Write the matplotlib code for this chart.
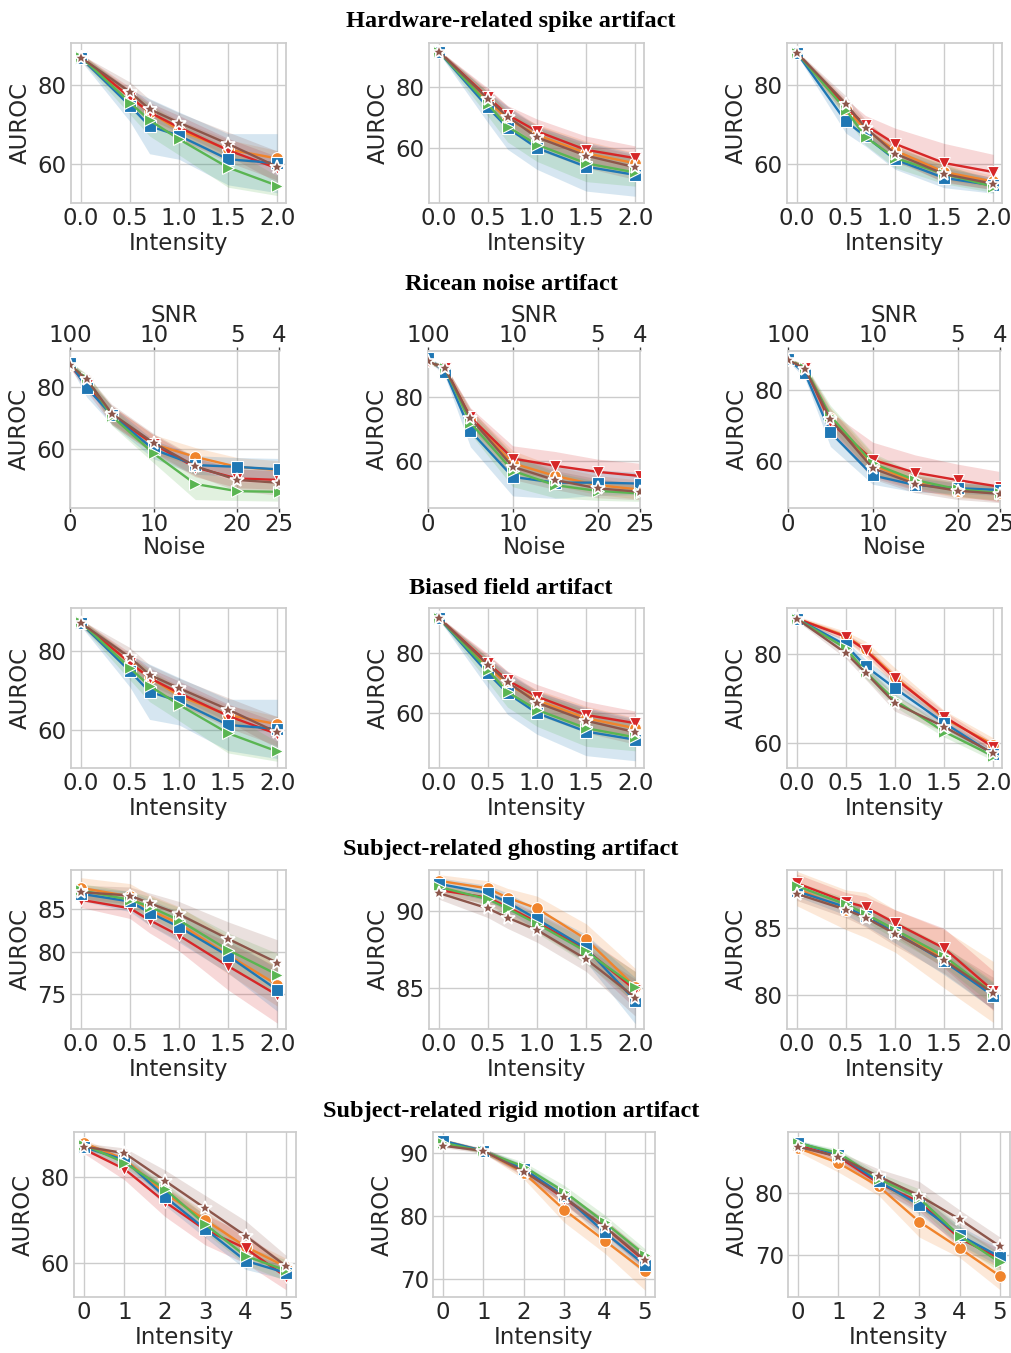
import matplotlib
matplotlib.use("Agg")
import matplotlib.pyplot as plt
import numpy as np
from matplotlib.ticker import MultipleLocator, FormatStrFormatter

# ---------------- data ----------------
x_intensity = [0.0, 0.5, 0.7, 1.0, 1.5, 2.0]
x_noise = [0, 2, 5, 10, 15, 20, 25]
x_motion = [0, 1, 2, 3, 4, 5]
intensity_ticks = [0.0, 0.5, 1.0, 1.5, 2.0]
noise_ticks = [0, 10, 20, 25]
snr_labels = ["100", "10", "5", "4"]
motion_ticks = [0, 1, 2, 3, 4, 5]

series = ["orange", "red", "blue", "green", "brown"]
colors = {"blue": "#1f77b4", "orange": "#f0842c", "green": "#5ab552",
          "red": "#d62728", "brown": "#8c564b"}
markers = {"blue": "s", "orange": "o", "green": ">", "red": "v", "brown": "*"}

section_titles = ["Hardware-related spike artifact", "Ricean noise artifact",
                  "Biased field artifact", "Subject-related ghosting artifact",
                  "Subject-related rigid motion artifact"]

# Hardware-related spike
spike1_mean = {"blue": [87.0, 74.8, 69.6, 67.2, 61.2, 60.2],
               "orange": [87.3, 76.9, 73.2, 68.6, 63.7, 61.4],
               "green": [87.2, 75.6, 71.1, 66.3, 59.1, 54.5],
               "red": [87.1, 77.0, 73.1, 69.3, 63.5, 58.9],
               "brown": [87.0, 78.3, 73.9, 70.5, 65.1, 59.3]}
spike1_ci = {"blue": [0.8, 4, 7, 6, 6.5, 7.5],
             "orange": [0.8, 2, 2, 2.5, 2.5, 2],
             "green": [0.8, 3, 4, 4, 5, 2.5],
             "red": [0.8, 2.5, 2.5, 3, 3, 3],
             "brown": [0.8, 2.5, 2.5, 2.5, 3, 4]}
spike2_mean = {"blue": [91.7, 73.4, 66.7, 60.1, 54.0, 51.3],
               "orange": [91.7, 75.6, 69.6, 64.4, 58.4, 55.1],
               "green": [91.7, 74.5, 67.1, 61.2, 55.1, 52.1],
               "red": [91.7, 76.7, 71.0, 65.6, 59.5, 56.8],
               "brown": [91.7, 76.2, 70.4, 63.6, 57.6, 53.8]}
spike2_ci = {"blue": [0.5, 5, 7, 7, 8, 7],
             "orange": [0.5, 3, 3, 3.5, 4, 3.5],
             "green": [0.5, 4, 5, 5.5, 6, 4.5],
             "red": [0.5, 3, 3, 4, 4.5, 4],
             "brown": [0.5, 3, 3.5, 4, 4, 4]}
spike3_mean = {"blue": [88.3, 70.8, 67.0, 61.1, 56.4, 54.5],
               "orange": [88.3, 74.0, 68.7, 63.4, 57.9, 55.5],
               "green": [88.3, 73.8, 66.8, 61.5, 57.4, 54.2],
               "red": [88.3, 74.5, 69.8, 65.1, 60.2, 57.9],
               "brown": [88.3, 75.3, 69.2, 62.6, 57.4, 54.9]}
spike3_ci = {"blue": [0.5, 3, 2.5, 2.5, 2.5, 2],
             "orange": [0.5, 2, 2, 2, 2, 1.5],
             "green": [0.5, 2, 2, 2.5, 2.5, 1.5],
             "red": [0.5, 2, 2.5, 4, 5, 4.5],
             "brown": [0.5, 2, 2, 2, 2, 1.5]}

# Ricean noise
noise1_mean = {"blue": [87.7, 79.7, 70.9, 59.9, 54.9, 54.3, 53.5],
               "orange": [87.0, 82.1, 70.9, 61.6, 57.5, 54.3, 53.3],
               "green": [87.0, 82.7, 70.6, 58.6, 48.8, 46.5, 46.3],
               "red": [87.0, 80.5, 70.9, 61.6, 54.1, 50.6, 50.1],
               "brown": [87.0, 82.4, 71.4, 62.0, 54.5, 50.1, 49.2]}
noise1_ci = {"blue": [1, 3, 3, 3, 3, 3, 3.5],
             "orange": [1, 1.5, 3, 3, 3, 3, 3],
             "green": [1, 1.5, 3, 3, 5, 3, 3],
             "red": [1, 2, 3, 3, 3, 3, 3],
             "brown": [1, 1.5, 3, 3, 3, 3.5, 4]}
noise2_mean = {"blue": [92.3, 88.1, 69.4, 54.9, 53.1, 53.1, 52.8],
               "orange": [91.3, 89.2, 73.1, 59.2, 55.2, 52.3, 50.9],
               "green": [91.3, 89.2, 72.0, 56.8, 52.3, 50.5, 49.7],
               "red": [91.3, 89.2, 73.7, 60.7, 58.4, 56.5, 55.2],
               "brown": [91.3, 89.2, 73.4, 58.1, 53.9, 51.3, 50.2]}
noise2_ci = {"blue": [0.5, 1.5, 5, 6, 5, 4, 3.5],
             "orange": [0.5, 1, 3, 4, 3, 3, 3],
             "green": [0.5, 1, 3.5, 5, 4, 3, 2.5],
             "red": [0.5, 1, 3, 4, 4.5, 4, 4],
             "brown": [0.5, 1, 3, 4, 3, 3, 2.5]}
noise3_mean = {"blue": [88.7, 84.7, 68.0, 55.8, 53.1, 52.2, 51.7],
               "orange": [88.5, 86.0, 72.0, 58.8, 53.8, 51.5, 50.8],
               "green": [88.5, 86.3, 72.6, 59.2, 54.5, 51.9, 50.8],
               "red": [88.5, 86.3, 70.8, 60.2, 56.6, 54.5, 52.6],
               "brown": [88.5, 86.0, 71.7, 57.8, 53.4, 51.5, 50.6]}
noise3_ci = {"blue": [0.5, 1.5, 4, 2.5, 2, 1.5, 1.5],
             "orange": [0.5, 1, 3, 3, 2, 2, 2],
             "green": [0.5, 1, 3, 3, 2, 2, 2],
             "red": [0.5, 1, 3, 5, 5, 4.5, 4.3],
             "brown": [0.5, 1, 3, 3, 2.5, 2.5, 2.5]}

# Biased field
bias1_mean = spike1_mean
bias1_ci = spike1_ci
bias2_mean = spike2_mean
bias2_ci = spike2_ci
bias3_mean = {"blue": [88.0, 82.0, 77.3, 72.3, 64.5, 57.4],
              "orange": [88.0, 84.1, 81.1, 74.9, 65.5, 59.6],
              "green": [88.0, 81.3, 76.0, 69.6, 62.5, 57.0],
              "red": [88.0, 83.9, 80.9, 74.5, 65.9, 59.1],
              "brown": [88.0, 80.2, 75.8, 68.9, 63.6, 57.6]}
bias3_ci = {"blue": [0.5, 1, 1.5, 1.5, 1.2, 1],
            "orange": [0.6, 1, 1.8, 2, 1.8, 1.5],
            "green": [0.5, 1, 1.5, 1.5, 1.2, 1],
            "red": [0.5, 0.8, 1, 1.2, 1.2, 1],
            "brown": [0.5, 1.2, 1.5, 1.8, 1.2, 1]}

# Subject-related ghosting
ghost1_mean = {"blue": [86.8, 85.9, 84.6, 82.9, 79.5, 75.5],
               "orange": [87.5, 86.5, 84.9, 83.3, 79.6, 76.1],
               "green": [87.2, 86.1, 85.3, 83.7, 80.2, 77.3],
               "red": [86.1, 85.1, 83.7, 81.9, 78.3, 74.9],
               "brown": [87.0, 86.6, 85.7, 84.4, 81.5, 78.7]}
ghost1_ci = {"blue": [0.8, 1.2, 1.5, 1.8, 2, 2.5],
             "orange": [1.2, 1.5, 1.8, 2, 2.2, 2.5],
             "green": [0.8, 1, 1.2, 1.5, 2, 2.5],
             "red": [0.9, 1.2, 1.5, 1.8, 2.8, 3.3],
             "brown": [0.8, 1, 1.2, 1.5, 2, 2.7]}
ghost2_mean = {"blue": [91.8, 91.2, 90.6, 89.5, 87.6, 84.2],
               "orange": [92.0, 91.5, 90.9, 90.2, 88.2, 85.1],
               "green": [91.6, 90.8, 90.2, 89.2, 87.4, 85.1],
               "red": [91.4, 90.9, 90.3, 89.3, 87.5, 84.9],
               "brown": [91.2, 90.2, 89.6, 88.8, 86.9, 84.4]}
ghost2_ci = {"blue": [0.4, 0.5, 0.6, 0.7, 0.9, 1.5],
             "orange": [0.4, 0.5, 0.6, 0.8, 1, 1.2],
             "green": [0.3, 0.4, 0.5, 0.6, 0.8, 1],
             "red": [0.3, 0.4, 0.5, 0.6, 0.8, 1.2],
             "brown": [0.4, 0.6, 0.7, 0.8, 0.8, 1.2]}
ghost3_mean = {"blue": [87.8, 86.6, 85.9, 84.7, 82.5, 79.9],
               "orange": [88.0, 86.4, 86.0, 84.8, 82.7, 80.2],
               "green": [88.2, 86.8, 86.1, 84.9, 82.9, 80.1],
               "red": [88.4, 87.0, 86.6, 85.4, 83.5, 80.3],
               "brown": [87.6, 86.4, 85.8, 84.6, 82.6, 80.1]}
ghost3_ci = {"blue": [0.4, 0.6, 0.7, 0.8, 1, 1],
             "orange": [1.3, 1.5, 1.7, 1.6, 2.2, 2.3],
             "green": [0.3, 0.5, 0.6, 0.7, 0.8, 0.9],
             "red": [0.7, 0.7, 0.8, 1, 1.5, 1.5],
             "brown": [0.5, 0.6, 0.7, 0.9, 1, 1.2]}

# Subject-related rigid motion
motion1_mean = {"blue": [87.0, 84.0, 75.5, 68.0, 60.6, 57.8],
                "orange": [87.9, 84.2, 76.3, 70.1, 63.9, 59.2],
                "green": [87.5, 83.4, 77.3, 69.1, 61.7, 58.4],
                "red": [86.5, 81.9, 74.3, 67.8, 63.5, 56.9],
                "brown": [87.1, 85.6, 79.2, 72.8, 66.4, 59.4]}
motion1_ci = {"blue": [1, 1.5, 2, 2, 2, 1.5],
              "orange": [0.8, 1, 1.5, 2, 2, 2],
              "green": [0.8, 1, 1.5, 2, 2, 2.5],
              "red": [1, 2.5, 3.4, 3.5, 3.5, 3],
              "brown": [0.8, 1.2, 2.5, 3, 3.5, 2.5]}
motion2_mean = {"blue": [92.0, 90.4, 87.5, 83.2, 77.4, 72.2],
                "orange": [92.0, 90.4, 86.9, 81.0, 76.1, 71.2],
                "green": [91.7, 90.3, 87.9, 83.9, 79.0, 73.8],
                "red": [91.6, 90.4, 87.3, 82.8, 78.3, 72.8],
                "brown": [91.2, 90.4, 87.1, 83.0, 78.3, 73.0]}
motion2_ci = {"blue": [0.3, 0.4, 0.8, 1, 1.2, 1.5],
              "orange": [0.3, 0.4, 1, 2, 2, 3],
              "green": [0.3, 0.4, 0.7, 1, 1.2, 1],
              "red": [0.3, 0.4, 0.8, 1, 1.2, 1.3],
              "brown": [0.3, 0.4, 0.8, 1, 1.2, 1.3]}
motion3_mean = {"blue": [88.2, 86.2, 81.9, 78.1, 73.2, 69.7],
                "orange": [87.3, 84.9, 81.1, 75.4, 71.1, 66.6],
                "green": [88.1, 86.5, 82.3, 79.2, 73.1, 68.8],
                "red": [87.7, 85.9, 81.6, 78.6, 72.7, 69.4],
                "brown": [87.5, 85.9, 82.7, 79.6, 75.8, 71.4]}
motion3_ci = {"blue": [0.4, 0.6, 1, 1.5, 1.5, 1.5],
              "orange": [0.6, 1.5, 1.5, 2.5, 1.5, 2.2],
              "green": [0.4, 0.6, 1, 1.5, 1.5, 1.5],
              "red": [0.4, 0.6, 1, 1.5, 1.5, 1.5],
              "brown": [0.4, 0.8, 1.2, 2.3, 1.5, 1.5]}

# ---------------- layout ----------------
W, H = 1012, 1353
fig = plt.figure(figsize=(W / 100, H / 100), dpi=100)
plt.rcParams["font.family"] = ["DejaVu Sans"]

row_y = [(43, 203), (351, 508), (608, 768), (870, 1029), (1132, 1297)]
cols_std = [(71, 286), (429, 644), (787, 1002)]
row_cols = [cols_std, [(70, 279), (428, 640), (788, 1000)], cols_std, cols_std,
            [(74, 296), (433, 655), (788, 1010)]]
title_y = [21, 284, 588, 850, 1111]

panels = [
    [(spike1_mean, spike1_ci, (50.1, 90.7), 20), (spike2_mean, spike2_ci, (42.1, 94.5), 20),
     (spike3_mean, spike3_ci, (50.0, 90.8), 20)],
    [(noise1_mean, noise1_ci, (41.1, 91.5), 20), (noise2_mean, noise2_ci, (45.1, 94.6), 20),
     (noise3_mean, noise3_ci, (46.6, 91.0), 20)],
    [(bias1_mean, bias1_ci, (50.3, 90.8), 20), (bias2_mean, bias2_ci, (41.9, 95.0), 20),
     (bias3_mean, bias3_ci, (54.3, 90.4), 20)],
    [(ghost1_mean, ghost1_ci, (70.9, 89.6), 5), (ghost2_mean, ghost2_ci, (82.35, 92.7), 5),
     (ghost3_mean, ghost3_ci, (77.4, 89.4), 5)],
    [(motion1_mean, motion1_ci, (52.2, 90.5), 20), (motion2_mean, motion2_ci, (67.1, 93.4), 10),
     (motion3_mean, motion3_ci, (63.2, 89.9), 10)],
]
row_x = [x_intensity, x_noise, x_intensity, x_intensity, x_motion]

FS = 16.5
GRID = "#cccccc"
TXT = "#262626"

for r in range(5):
    fig.text(511 / W, 1 - title_y[r] / H, section_titles[r], ha="center", va="center",
             fontsize=17.5, fontweight="bold", family="Liberation Serif")
    top, bottom = row_y[r]
    for c in range(3):
        left, right = row_cols[r][c]
        ax = fig.add_axes([left / W, 1 - bottom / H, (right - left) / W, (bottom - top) / H])
        means, cis, ylim, step = panels[r][c]
        xs = np.array(row_x[r], dtype=float)
        for s in series:
            m = np.array(means[s]); e = np.array(cis[s])
            ax.fill_between(xs, m - e, m + e, color=colors[s], alpha=0.18, lw=0, zorder=2)
        for s in series:
            star = markers[s] == "*"
            ax.plot(xs, means[s], color=colors[s], lw=1.7, marker=markers[s],
                    markersize=10.5 if star else 8.5,
                    markeredgecolor="white", markeredgewidth=1.2 if star else 0.8, zorder=3)
        ax.set_ylim(*ylim)
        ax.yaxis.set_major_locator(MultipleLocator(step))
        ax.set_ylabel("AUROC", fontsize=FS, labelpad=4, color=TXT)
        if r == 1:
            ax.set_xlim(0, 25)
            ax.set_xticks(noise_ticks)
            ax.set_xlabel("Noise", fontsize=FS, labelpad=0, color=TXT)
            sec = ax.secondary_xaxis("top")
            sec.set_xticks(noise_ticks)
            sec.set_xticklabels(snr_labels)
            sec.tick_params(labelsize=FS, length=3, width=1, color="#444444", pad=0,
                            labelcolor=TXT)
            sec.set_xlabel("SNR", fontsize=FS, labelpad=1, color=TXT)
            for sp in sec.spines.values():
                sp.set_visible(False)
            ax.tick_params(axis="x", length=3, width=1, color="#444444", pad=0.5)
        elif r == 4:
            ax.set_xlim(-0.25, 5.25)
            ax.set_xticks(motion_ticks)
            ax.set_xlabel("Intensity", fontsize=FS, labelpad=1, color=TXT)
            ax.tick_params(axis="x", length=0, pad=3)
        else:
            ax.set_xlim(-0.1, 2.09)
            ax.set_xticks(intensity_ticks)
            ax.xaxis.set_major_formatter(FormatStrFormatter("%.1f"))
            ax.set_xlabel("Intensity", fontsize=FS, labelpad=1, color=TXT)
            ax.tick_params(axis="x", length=0, pad=3)
        ax.tick_params(axis="y", length=0, pad=3)
        ax.tick_params(labelsize=FS, labelcolor=TXT)
        ax.grid(True, color=GRID, lw=1.0, zorder=0)
        ax.set_axisbelow(True)
        for sp in ax.spines.values():
            sp.set_color(GRID)
            sp.set_linewidth(1.25)

fig.savefig("out.png", dpi=100)
